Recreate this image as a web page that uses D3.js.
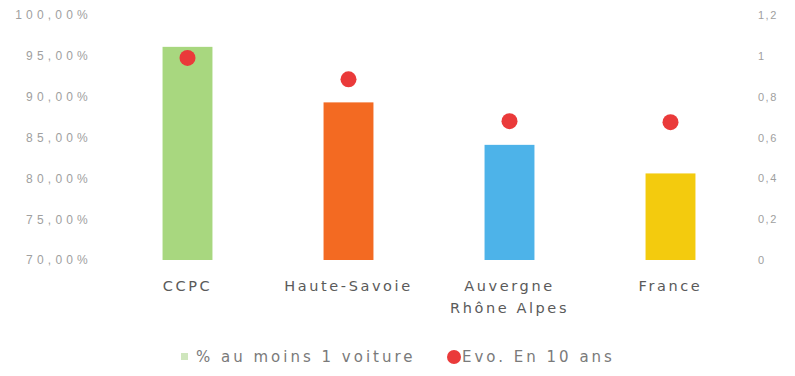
<!DOCTYPE html>
<html>
<head>
<meta charset="utf-8">
<script src="https://cdn.jsdelivr.net/npm/d3@7"></script>
<style>
  html, body { margin: 0; padding: 0; background: #fff; }
  svg { display: block; font-family: "DejaVu Sans", sans-serif; }
  .axis text { fill: #a0a0a0; }
  .axis.left text { font-size: 12px; letter-spacing: 4.2px; }
  .axis.right text { font-size: 11px; letter-spacing: 1.5px; }
  .cat { fill: #5a5a5a; font-size: 14.5px; letter-spacing: 2.6px; }
  .legend text { fill: #7a7a7a; font-size: 15px; letter-spacing: 3px; }
</style>
</head>
<body>
<svg id="chart" width="795" height="376"></svg>
<script>
// Household car ownership and its 10-year change, by territory
const categories = [["CCPC"], ["Haute-Savoie"], ["Auvergne", "Rhône Alpes"], ["France"]];
const shareOneCar = [96.1, 89.3, 84.1, 80.6];          // % au moins 1 voiture
const evo10Years = [0.99, 0.885, 0.68, 0.675];          // Evo. En 10 ans
const barColors = ["#a8d77f", "#f36a22", "#4db3e9", "#f3cb0e"];
const leftTicks = [70, 75, 80, 85, 90, 95, 100];
const rightTicks = [0, 0.2, 0.4, 0.6, 0.8, 1, 1.2];
const seriesNames = ["% au moins 1 voiture", "Evo. En 10 ans"];

const svg = d3.select("#chart");
const margin = { top: 15, right: 44, bottom: 116, left: 107 };
const W = 795, H = 376;

const x = d3.scaleBand()
  .domain(categories.map(c => c.join(" ")))
  .range([margin.left, W - margin.right])
  .paddingInner(0.69)
  .paddingOuter(0.345);

const yLeft = d3.scaleLinear().domain([70, 100]).range([H - margin.bottom, margin.top]);
const yRight = d3.scaleLinear().domain([0, 1.2]).range([H - margin.bottom, margin.top]);

const fr = d3.formatLocale({ decimal: ",", thousands: " ", grouping: [3], currency: ["", " €"] });

// Left axis: percentages
svg.append("g")
  .attr("class", "axis left")
  .attr("transform", `translate(${margin.left - 15},0)`)
  .call(d3.axisLeft(yLeft).tickValues(leftTicks).tickSize(0).tickPadding(0)
    .tickFormat(d => fr.format(".2f")(d) + "%"))
  .call(g => g.select(".domain").remove());

// Right axis: change over 10 years
svg.append("g")
  .attr("class", "axis right")
  .attr("transform", `translate(${W - margin.right + 7},0)`)
  .call(d3.axisRight(yRight).tickValues(rightTicks).tickSize(0).tickPadding(0)
    .tickFormat(fr.format("~g")))
  .call(g => g.select(".domain").remove());

// Bars
svg.append("g").selectAll("rect")
  .data(shareOneCar)
  .join("rect")
  .attr("x", (d, i) => x(categories[i].join(" ")))
  .attr("width", x.bandwidth())
  .attr("y", d => yLeft(d))
  .attr("height", d => yLeft(70) - yLeft(d))
  .attr("fill", (d, i) => barColors[i]);

// Dots
svg.append("g").selectAll("circle")
  .data(evo10Years)
  .join("circle")
  .attr("cx", (d, i) => x(categories[i].join(" ")) + x.bandwidth() / 2)
  .attr("cy", d => yRight(d))
  .attr("r", 8)
  .attr("fill", "#ea3a3a");

// Category labels
const catG = svg.append("g");
categories.forEach((lines, i) => {
  const cx = x(lines.join(" ")) + x.bandwidth() / 2;
  const t = catG.append("text")
    .attr("class", "cat")
    .attr("text-anchor", "middle")
    .attr("x", cx)
    .attr("y", 291);
  lines.forEach((l, j) => {
    t.append("tspan")
      .attr("x", cx)
      .attr("dy", j === 0 ? 0 : 22)
      .text(l);
  });
});

// Legend
const lg = svg.append("g").attr("class", "legend");
lg.append("rect").attr("x", 181).attr("y", 353).attr("width", 7).attr("height", 7).attr("fill", "#cfe6bd");
lg.append("text").attr("x", 196).attr("y", 362).text(seriesNames[0]);
lg.append("circle").attr("cx", 454).attr("cy", 357).attr("r", 7).attr("fill", "#ea3a3a");
lg.append("text").attr("x", 462).attr("y", 362).text(seriesNames[1]);
</script>
</body>
</html>
